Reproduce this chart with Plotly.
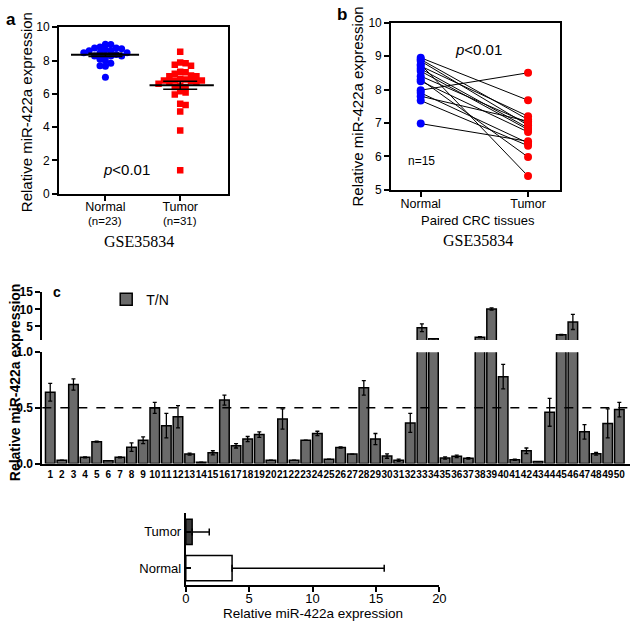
import plotly.graph_objects as go

# ---------------- data ----------------
# panel a (GSE35834, unpaired)
normal_a = [8.98, 8.96, 8.82, 8.75, 8.75, 8.71, 8.65, 8.61, 8.59, 8.47, 8.47, 8.47,
            8.37, 8.31, 8.27, 8.27, 8.27, 8.08, 7.98, 7.84, 7.69, 7.65, 7.00]
tumor_a = [8.53, 7.88, 7.84, 7.75, 7.69, 7.33, 7.29, 7.20, 7.10, 7.06, 7.06, 6.90,
           6.86, 6.80, 6.80, 6.80, 6.75, 6.70, 6.70, 6.60, 6.50, 6.41, 6.41, 6.16,
           6.08, 5.96, 5.41, 5.33, 4.94, 3.80, 1.41]
groups_a = ["Normal", "Tumor"]
group_n_a = ["(n=23)", "(n=31)"]

# panel b (paired)
normal_b = [8.95, 8.90, 8.85, 8.75, 8.70, 8.62, 8.55, 8.40, 8.30, 8.25, 7.98, 7.90, 7.80, 7.67, 6.98]
tumor_b = [7.68, 7.10, 6.93, 5.41, 7.20, 6.85, 6.80, 7.00, 5.98, 6.73, 8.50, 6.40, 7.05, 6.32, 6.45]
groups_b = ["Normal", "Tumor"]

# panel c (T/N ratio for 50 samples)
samples_c = list(range(1, 51))
tn_values = [0.64, 0.03, 0.71, 0.056, 0.197, 0.026, 0.056, 0.147, 0.21, 0.50,
             0.34, 0.42, 0.085, 0.012, 0.097, 0.57, 0.16, 0.22, 0.26, 0.03,
             0.40, 0.03, 0.21, 0.27, 0.04, 0.144, 0.085, 0.68, 0.22, 0.068,
             0.03, 0.365, 4.6, 1.4, 0.05, 0.065, 0.047, 1.87, 10.1, 0.78,
             0.035, 0.115, 0.018, 0.46, 2.56, 6.3, 0.285, 0.088, 0.36, 0.485]
tn_err = [0.08, 0.0, 0.05, 0.005, 0.005, 0.0, 0.005, 0.038, 0.03, 0.05,
          0.11, 0.10, 0.009, 0.0, 0.018, 0.045, 0.02, 0.023, 0.025, 0.0,
          0.09, 0.0, 0.0, 0.02, 0.0, 0.006, 0.0, 0.065, 0.05, 0.02,
          0.01, 0.085, 1.15, 0.0, 0.01, 0.011, 0.006, 0.15, 0.3, 0.11,
          0.005, 0.025, 0.0, 0.125, 0.1, 2.2, 0.065, 0.012, 0.13, 0.065]

# bottom panel
groups_d = ["Normal", "Tumor"]
mean_d = [3.65, 0.5]
err_d = [12.0, 1.35]

# ---------------- helpers ----------------
W, H = 638, 628
FONT = "Liberation Sans, Arial, sans-serif"
SERIF = "Liberation Serif, Times New Roman, serif"


def fx(px):
    return px / W


def fy(py):
    return 1 - py / H


def beeswarm(values, x_px_per_unit, y_px_per_unit, diam):
    placed = []
    offsets = [0.0] * len(values)
    order = sorted(range(len(values)), key=lambda i: -values[i])
    for i in order:
        y = values[i] * y_px_per_unit
        k = 0
        while True:
            step = (k + 1) // 2 * (1 if k % 2 == 1 else -1)
            x = step * diam
            if all((x - px) ** 2 + (y - py) ** 2 >= diam ** 2 for px, py in placed):
                break
            k += 1
        placed.append((x, y))
        offsets[i] = x / x_px_per_unit
    return offsets


def mean(v):
    return sum(v) / len(v)


def sem(v):
    m = mean(v)
    sd = (sum((a - m) ** 2 for a in v) / (len(v) - 1)) ** 0.5
    return sd / len(v) ** 0.5


fig = go.Figure()

# ---------------- panel a ----------------
xa_px = 76.0
ya_px = 17.0
off_n = beeswarm(normal_a, xa_px, ya_px, 5.5)
off_t = beeswarm(tumor_a, xa_px, ya_px, 5.5)
fig.add_trace(go.Scatter(x=[0 + o for o in off_n], y=normal_a, mode="markers",
                         marker=dict(symbol="circle", size=7, color="#0000ff"),
                         xaxis="x", yaxis="y", showlegend=False))
fig.add_trace(go.Scatter(x=[1 + o for o in off_t], y=tumor_a, mode="markers",
                         marker=dict(symbol="square", size=6.5, color="#ff0000"),
                         xaxis="x", yaxis="y", showlegend=False))
mn, mt = mean(normal_a), mean(tumor_a)
fig.add_trace(go.Scatter(x=[-0.46, 0.45, None, 0.59, 1.45], y=[mn, mn, None, mt, mt],
                         mode="lines", line=dict(color="black", width=2),
                         xaxis="x", yaxis="y", showlegend=False))
fig.add_trace(go.Scatter(x=[0, 1], y=[mn, mt], mode="markers",
                         marker=dict(size=1, color="rgba(0,0,0,0)"),
                         error_y=dict(type="data", array=[sem(normal_a), sem(tumor_a)],
                                      color="black", thickness=1.5, width=17),
                         xaxis="x", yaxis="y", showlegend=False))

# ---------------- panel b ----------------
lx, ly = [], []
for n, t in zip(normal_b, tumor_b):
    lx += [0, 1, None]
    ly += [n, t, None]
fig.add_trace(go.Scatter(x=lx, y=ly, mode="lines", line=dict(color="black", width=1),
                         xaxis="x2", yaxis="y2", showlegend=False))
fig.add_trace(go.Scatter(x=[0] * len(normal_b), y=normal_b, mode="markers",
                         marker=dict(size=8, color="#0000ff"),
                         xaxis="x2", yaxis="y2", showlegend=False))
fig.add_trace(go.Scatter(x=[1] * len(tumor_b), y=tumor_b, mode="markers",
                         marker=dict(size=8, color="#ff0000"),
                         xaxis="x2", yaxis="y2", showlegend=False))

# ---------------- panel c ----------------
bar_fill = "#6a6a6a"
low_err = [e if v <= 1 else None for v, e in zip(tn_values, tn_err)]
fig.add_trace(go.Bar(x=samples_c, y=tn_values, width=0.82, name="T/N",
                     marker=dict(color=bar_fill, line=dict(color="black", width=1.5)),
                     error_y=dict(type="data", array=low_err, color="black",
                                  thickness=1.3, width=2),
                     xaxis="x3", yaxis="y3", showlegend=True))
up_vals = [v if v > 1 else None for v in tn_values]
up_err = [e if v > 1 else None for v, e in zip(tn_values, tn_err)]
fig.add_trace(go.Bar(x=samples_c, y=up_vals, width=0.82, name="T/N",
                     marker=dict(color=bar_fill, line=dict(color="black", width=1.5)),
                     error_y=dict(type="data", array=up_err, color="black",
                                  thickness=1.3, width=2),
                     xaxis="x4", yaxis="y4", showlegend=False))

# ---------------- bottom panel ----------------
fig.add_trace(go.Bar(y=groups_d, x=mean_d, orientation="h", width=0.7,
                     marker=dict(color=["white", "#3c3c3c"], line=dict(color="black", width=1.5)),
                     error_x=dict(type="data", array=err_d, arrayminus=[0, 0], symmetric=False,
                                  color="black", thickness=1.5, width=3.5),
                     xaxis="x5", yaxis="y5", showlegend=False))

# ---------------- axes ----------------
ax_common = dict(showline=True, linecolor="black", linewidth=2, showgrid=False,
                 zeroline=False, ticks="outside", tickcolor="black", tickwidth=1.5,
                 ticklen=5, tickfont=dict(family=FONT, size=12, color="black"))

layout = dict(
    width=W, height=H, autosize=False,
    margin=dict(l=0, r=0, t=0, b=0),
    paper_bgcolor="white", plot_bgcolor="white",
    font=dict(family=FONT, color="black"),
    barmode="overlay",
    xaxis=dict(ax_common, domain=[fx(56), fx(228)], range=[-0.62, 1.64], mirror=True,
               tickvals=[0, 1], ticktext=groups_a, anchor="y", ticklabelstandoff=-5,
               tickfont=dict(family=FONT, size=12.5, color="black")),
    yaxis=dict(ax_common, domain=[fy(191), fy(20.7)], range=[0, 10], mirror=True,
               tickvals=[0, 2, 4, 6, 8, 10], anchor="x"),
    xaxis2=dict(ax_common, domain=[fx(394), fx(566)], range=[-0.275, 1.30], mirror=True,
                tickvals=[0, 1], ticktext=groups_b, anchor="y2", ticklabelstandoff=-4,
                tickfont=dict(family=FONT, size=12.5, color="black")),
    yaxis2=dict(ax_common, domain=[fy(187), fy(16)], range=[5, 10], mirror=True,
                tickvals=[5, 6, 7, 8, 9, 10], anchor="x2"),
    xaxis3=dict(ax_common, domain=[fx(39), fx(637)], range=[0.32, 50.92], ticks="",
                tickvals=samples_c, ticktext=["<b>%d</b>" % s for s in samples_c],
                anchor="y3", tickfont=dict(family=FONT, size=10, color="black"),
                tickangle=0),
    yaxis3=dict(ax_common, domain=[fy(467), fy(353)], range=[0, 1],
                tickvals=[0, 0.5, 1], ticktext=["<b>0.0</b>", "<b>0.5</b>", "<b>1.0</b>"],
                anchor="x3"),
    xaxis4=dict(domain=[fx(39), fx(637)], range=[0.32, 50.92], visible=False,
                anchor="y4", matches="x3"),
    yaxis4=dict(ax_common, domain=[fy(340.7), fy(291.7)], range=[1, 15],
                tickvals=[5, 10, 15], ticktext=["<b>5</b>", "<b>10</b>", "<b>15</b>"],
                anchor="x4"),
    xaxis5=dict(ax_common, domain=[fx(185), fx(443)], range=[0, 20],
                tickvals=[0, 5, 10, 15, 20], anchor="y5", ticklabelstandoff=-4,
                tickfont=dict(family=FONT, size=13, color="black")),
    yaxis5=dict(ax_common, domain=[fy(591), fy(518)], range=[-0.46, 1.51],
                ticks="inside", categoryorder="array", categoryarray=groups_d, anchor="x5",
                tickfont=dict(family=FONT, size=13, color="black")),
    legend=dict(x=fx(104), y=fy(283), xanchor="left", yanchor="top",
                bgcolor="rgba(0,0,0,0)", font=dict(family=FONT, size=14, color="black"),
                itemwidth=30),
)
fig.update_layout(**layout)

# ---------------- shapes / annotations ----------------
fig.add_shape(type="line", xref="x3 domain", yref="y3", x0=0, x1=1, y0=0.5, y1=0.5,
              line=dict(color="black", width=1.5, dash="dash"))


def ann(text, x, y, size, angle=0, family=FONT, xanchor="center", yanchor="middle"):
    fig.add_annotation(text=text, x=fx(x), y=fy(y), xref="paper", yref="paper",
                       showarrow=False, textangle=angle, xanchor=xanchor, yanchor=yanchor,
                       font=dict(family=family, size=size, color="black"))


ann("<b>a</b>", 7, 13, 17)
ann("<b>b</b>", 344, 8, 17)
ann("<b>c</b>", 54, 292, 14)
ann("Relative miR-422a expression", 23, 108, 15, angle=-90)
ann("Relative miR-422a expression", 360, 102, 15, angle=-90)
ann("<b>Relative miR-422a expression</b>", 12, 384, 14, angle=-90)
ann("<i>p</i>&lt;0.01", 125, 166, 15)
ann("<i>p</i>&lt;0.01", 483, 43, 15)
ann("n=15", 425, 157, 12)
ann(group_n_a[0], 103, 219, 11.5)
ann(group_n_a[1], 179, 219, 11.5)
ann("GSE35834", 137, 240, 16, family=SERIF)
ann("Paired CRC tissues", 482, 218, 13)
ann("GSE35834", 482, 239, 16, family=SERIF)
ann("Relative miR-422a expression", 314, 620, 13.5)

fig.write_html(
    "out.html",
    config={"displayModeBar": False},
    post_script=("document.documentElement.style.margin='0px';"
                 "document.documentElement.style.overflow='hidden';"
                 "document.body.style.margin='0px';"
                 "document.body.style.overflow='hidden';"),
)
